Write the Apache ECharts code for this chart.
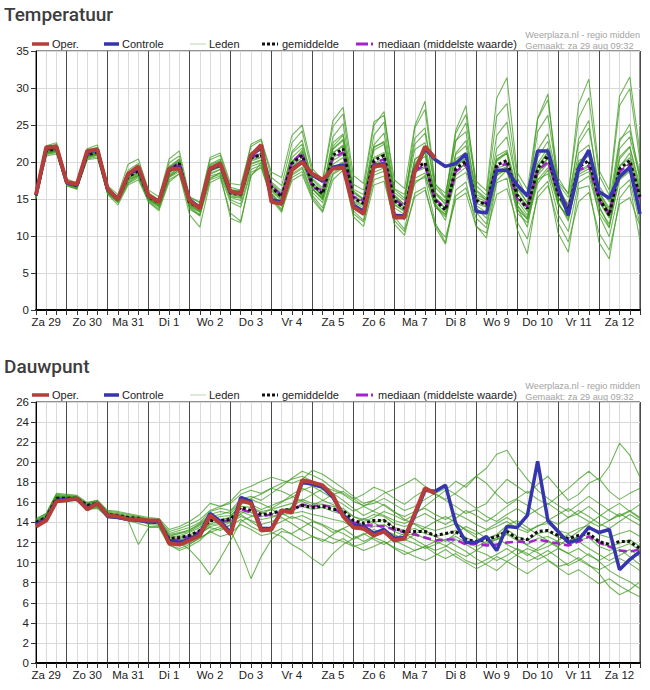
<!DOCTYPE html>
<html>
<head>
<meta charset="utf-8">
<script src="https://cdn.jsdelivr.net/npm/echarts@6/dist/echarts.min.js"></script>
<style>
  html, body { margin: 0; padding: 0; background: #fff; }
  #chart { width: 650px; height: 690px; }
</style>
</head>
<body>
<div id="chart"></div>
<script>
// time axis: 6-hourly from Za 29 06:00 to Zo 13 00:00 (60 steps)
const dayLabels = ['Za 29', 'Zo 30', 'Ma 31', 'Di 1', 'Wo 2', 'Do 3', 'Vr 4', 'Za 5',
  'Zo 6', 'Ma 7', 'Di 8', 'Wo 9', 'Do 10', 'Vr 11', 'Za 12', 'Zo 13'];

// ---- Temperatuur ----
const tempOper = [15.6, 22.0, 22.1, 17.3, 17.0, 21.5, 21.7, 16.4, 14.9, 18.4, 19.4, 15.5, 14.6, 19.1, 19.1,
  14.8, 13.7, 19.1, 19.8, 16.0, 15.7, 20.9, 22.3, 14.6, 14.4, 18.9, 20.0, 18.4, 17.6, 19.1, 19.3, 13.9, 13.0,
  19.4, 19.6, 12.5, 12.5, 18.7, 22.1, 20.5];
const tempControle = [15.5, 21.8, 22.0, 17.2, 16.9, 21.3, 21.6, 16.3, 15.0, 18.3, 19.2, 15.4, 14.7, 19.0, 19.3,
  14.9, 13.8, 19.0, 19.7, 15.9, 15.8, 20.8, 22.0, 14.9, 14.6, 19.0, 20.1, 18.2, 17.4, 19.3, 19.6, 14.2, 13.3,
  19.5, 19.8, 12.8, 12.7, 18.9, 21.8, 20.3, 19.4, 19.8, 21.1, 13.3, 13.1, 18.9, 18.9, 16.9, 15.4, 21.5, 21.5,
  16.6, 12.8, 19.1, 21.6, 16.0, 15.1, 18.0, 19.3, 13.0];
const tempMean = [15.5, 21.5, 21.8, 17.2, 16.8, 21.0, 21.3, 16.2, 15.0, 18.0, 18.8, 15.3, 14.5, 18.8, 19.8,
  14.5, 13.8, 19.0, 19.6, 15.8, 15.6, 20.5, 21.0, 16.6, 15.3, 19.8, 20.9, 17.0, 15.7, 20.9, 21.8, 15.1, 14.4,
  20.2, 20.9, 14.8, 13.7, 19.1, 19.9, 14.8, 13.5, 19.1, 20.1, 14.8, 14.2, 19.6, 20.2, 15.5, 13.7, 19.1, 20.9,
  15.7, 13.5, 19.3, 20.2, 15.1, 12.8, 19.1, 20.2, 15.3];
const tempMedian = [15.6, 21.6, 21.9, 17.2, 16.9, 21.1, 21.4, 16.3, 15.1, 18.2, 19.0, 15.4, 14.6, 19.0, 19.9,
  14.6, 13.9, 19.2, 19.8, 15.9, 15.8, 20.6, 21.1, 16.8, 15.5, 20.0, 21.2, 16.5, 16.2, 20.5, 21.3, 15.3, 14.8,
  19.8, 20.4, 15.0, 14.0, 18.8, 19.6, 14.9, 13.8, 18.7, 19.7, 14.5, 14.5, 19.3, 19.8, 15.0, 14.0, 18.8, 20.0,
  15.9, 13.8, 18.9, 19.5, 14.8, 13.0, 18.7, 19.7, 15.0];
const tempLeden = [
  [15.8, 21.9, 22.4, 17.5, 17.0, 21.6, 22.0, 16.6, 15.3, 18.9, 19.8, 15.8, 14.9, 19.9, 20.8, 15.2, 14.5, 20.3, 20.9, 16.6, 16.2, 22.4, 23.1, 17.9, 16.8, 22.6, 24.2, 18.4, 17.3, 24.8, 26.5, 17.0, 16.2, 24.9, 26.8, 16.3, 15.1, 23.2, 24.6, 15.9, 14.2, 22.8, 25.3, 16.8, 15.5, 26.2, 27.9, 17.9, 15.2, 24.1, 26.3, 17.3, 15.8, 25.9, 28.7, 18.2, 15.5, 27.6, 29.9, 20.1],
  [15.2, 21.0, 21.3, 16.9, 16.5, 20.4, 20.7, 15.8, 14.6, 17.2, 18.1, 14.8, 13.8, 17.9, 18.7, 13.6, 12.8, 17.6, 18.1, 14.6, 13.9, 18.6, 19.2, 15.1, 13.4, 17.5, 18.3, 14.9, 13.2, 17.6, 18.9, 12.6, 11.3, 16.9, 17.4, 12.1, 10.6, 15.3, 16.2, 11.4, 9.8, 14.9, 15.8, 11.2, 10.4, 15.6, 16.4, 11.9, 9.6, 15.2, 16.8, 11.8, 9.2, 14.6, 15.9, 10.4, 8.1, 14.3, 15.2, 11.3],
  [15.7, 21.7, 22.0, 17.4, 17.1, 21.3, 21.6, 16.5, 15.2, 18.6, 19.3, 15.6, 14.8, 19.2, 20.3, 14.9, 14.1, 19.6, 20.2, 16.3, 16.0, 21.2, 21.8, 17.1, 15.8, 20.6, 21.9, 17.6, 16.2, 21.8, 23.1, 15.9, 15.0, 21.6, 22.4, 15.6, 14.2, 20.3, 21.5, 15.9, 14.7, 21.0, 22.2, 15.6, 14.9, 20.8, 21.6, 16.4, 14.5, 20.6, 22.8, 16.7, 14.1, 21.2, 22.3, 16.0, 13.4, 20.7, 22.1, 16.8],
  [15.3, 21.3, 21.5, 17.0, 16.6, 20.7, 21.0, 15.9, 14.8, 17.6, 18.4, 15.0, 14.2, 18.3, 19.2, 14.1, 13.3, 18.3, 19.0, 15.3, 15.1, 19.7, 20.2, 16.1, 14.7, 18.9, 19.8, 16.3, 14.9, 19.7, 20.6, 14.2, 13.5, 19.1, 19.6, 13.8, 12.9, 17.8, 18.5, 13.9, 12.6, 17.7, 18.6, 13.6, 13.0, 18.3, 18.9, 14.2, 12.5, 17.6, 19.2, 14.5, 12.3, 18.0, 18.7, 13.8, 11.6, 17.6, 18.7, 14.0],
  [15.4, 21.6, 21.9, 17.2, 16.9, 21.1, 21.5, 16.3, 15.1, 18.2, 19.1, 15.4, 14.6, 19.3, 20.1, 14.7, 14.0, 19.4, 20.1, 16.1, 15.9, 21.0, 21.6, 16.9, 15.6, 21.4, 23.0, 17.2, 15.9, 23.4, 25.2, 16.1, 15.0, 23.6, 25.4, 15.4, 14.3, 24.6, 27.1, 16.6, 15.1, 23.9, 26.4, 17.4, 16.1, 28.6, 31.4, 18.6, 16.3, 25.8, 28.4, 17.9, 15.6, 27.8, 31.2, 18.9, 16.2, 28.9, 31.5, 21.3],
  [15.4, 21.2, 21.6, 17.1, 16.7, 20.8, 21.1, 16.0, 14.7, 17.8, 18.5, 15.1, 14.0, 18.1, 19.3, 13.9, 12.9, 18.5, 19.0, 15.2, 14.8, 19.8, 20.3, 15.7, 14.1, 18.4, 19.3, 15.9, 14.5, 19.2, 20.0, 13.4, 12.1, 18.2, 18.8, 12.6, 10.9, 17.4, 17.9, 11.8, 9.1, 16.2, 17.3, 11.4, 9.7, 17.2, 17.8, 10.9, 7.6, 15.9, 17.4, 10.4, 7.8, 16.4, 16.8, 9.1, 6.9, 15.1, 16.9, 9.4],
  [15.6, 21.5, 21.7, 17.3, 16.8, 21.0, 21.2, 16.1, 15.0, 17.9, 18.7, 15.3, 14.4, 18.6, 19.6, 14.6, 13.9, 19.1, 19.8, 15.9, 15.4, 20.3, 20.7, 16.4, 15.1, 19.4, 20.6, 16.8, 15.4, 20.6, 21.3, 14.7, 14.1, 19.8, 20.5, 14.3, 13.4, 18.8, 19.4, 14.5, 13.2, 18.7, 19.8, 14.4, 13.9, 19.2, 19.6, 15.2, 13.3, 18.7, 20.5, 15.3, 13.1, 18.8, 19.6, 14.6, 12.4, 18.8, 19.9, 14.9],
  [15.1, 21.1, 21.4, 16.8, 16.3, 20.5, 20.9, 15.6, 14.2, 16.9, 17.6, 14.6, 13.4, 17.3, 18.4, 12.9, 11.2, 17.2, 17.9, 13.1, 12.0, 18.2, 19.4, 14.9, 13.2, 19.6, 21.2, 16.4, 15.1, 22.1, 23.6, 15.8, 14.9, 22.3, 23.9, 15.9, 14.8, 21.7, 22.6, 15.2, 13.6, 20.4, 21.3, 13.8, 12.4, 18.4, 19.2, 13.1, 11.8, 17.1, 18.9, 14.2, 12.7, 19.8, 21.6, 15.4, 13.1, 20.4, 22.0, 16.2],
  [15.9, 22.2, 22.6, 17.7, 17.2, 21.8, 22.3, 16.8, 15.6, 19.7, 20.4, 16.2, 15.3, 20.4, 21.5, 15.3, 14.6, 20.6, 21.2, 17.1, 16.9, 22.1, 22.9, 18.6, 17.9, 23.6, 25.0, 19.1, 17.6, 25.6, 27.4, 18.2, 17.1, 25.4, 26.3, 17.6, 16.4, 24.9, 28.2, 17.1, 15.2, 24.3, 27.6, 16.1, 14.8, 23.6, 25.4, 16.8, 14.4, 25.9, 29.2, 16.2, 13.9, 23.1, 25.6, 15.6, 13.2, 22.7, 25.1, 17.3],
  [15.3, 21.4, 21.6, 17.0, 16.6, 20.9, 21.1, 16.0, 14.9, 17.6, 18.2, 14.9, 14.1, 18.0, 18.9, 14.2, 13.4, 18.1, 18.5, 15.4, 15.2, 19.4, 19.9, 15.6, 14.0, 18.2, 19.1, 15.5, 13.8, 18.5, 19.4, 13.9, 12.8, 18.6, 19.2, 13.1, 12.2, 17.1, 18.2, 13.9, 12.9, 19.4, 20.6, 14.9, 14.3, 20.1, 21.2, 15.8, 14.1, 19.8, 21.9, 16.1, 14.3, 20.2, 20.8, 14.1, 11.2, 17.8, 18.9, 12.7],
  [15.6, 21.8, 22.1, 17.3, 17.0, 21.4, 21.7, 16.4, 15.3, 18.4, 19.2, 15.5, 14.8, 19.4, 20.4, 14.8, 14.2, 19.7, 20.4, 16.2, 16.1, 21.3, 21.9, 17.3, 16.1, 21.2, 22.4, 17.8, 16.5, 22.6, 23.8, 16.3, 15.6, 22.1, 22.6, 15.4, 13.8, 20.4, 21.2, 14.3, 12.1, 18.6, 19.9, 13.2, 11.6, 18.1, 19.3, 13.8, 11.2, 18.4, 20.6, 14.6, 12.0, 19.7, 21.2, 15.9, 13.8, 21.8, 23.4, 17.9],
  [15.0, 20.8, 21.1, 16.8, 16.4, 20.3, 20.5, 15.7, 14.5, 17.1, 17.9, 14.6, 13.6, 17.6, 18.4, 13.8, 12.7, 17.7, 18.6, 14.9, 14.3, 19.0, 19.6, 15.3, 13.6, 17.9, 18.7, 15.2, 13.4, 18.3, 19.2, 13.0, 11.9, 17.6, 18.1, 11.6, 10.1, 15.8, 16.6, 11.2, 8.9, 15.4, 16.5, 12.4, 11.1, 17.5, 18.9, 13.6, 12.3, 19.4, 21.2, 14.3, 12.6, 18.6, 19.4, 12.8, 9.9, 16.3, 17.6, 11.6],
  [15.5, 21.4, 21.9, 17.1, 16.9, 21.2, 21.4, 16.2, 15.1, 18.1, 19.0, 15.2, 14.3, 18.9, 19.7, 14.4, 13.6, 18.8, 19.4, 15.6, 15.5, 20.6, 21.2, 16.8, 15.5, 20.1, 21.1, 17.2, 15.9, 21.2, 22.3, 15.4, 14.7, 20.6, 21.3, 14.9, 13.9, 19.6, 20.8, 15.1, 13.8, 19.5, 20.4, 15.3, 14.6, 20.4, 21.1, 15.7, 13.9, 19.4, 21.4, 16.0, 13.7, 19.6, 20.9, 15.4, 13.0, 19.5, 20.6, 15.6],
  [15.4, 21.5, 21.6, 17.2, 16.7, 20.8, 21.2, 16.1, 14.9, 17.8, 18.6, 15.1, 14.4, 18.5, 19.5, 14.3, 13.5, 18.8, 19.3, 15.6, 15.3, 20.1, 20.6, 16.2, 14.9, 19.3, 20.2, 16.4, 15.0, 20.2, 21.0, 14.6, 13.8, 19.5, 20.3, 14.2, 13.3, 19.8, 21.4, 15.6, 14.4, 21.2, 22.9, 16.2, 15.1, 21.8, 23.4, 16.9, 15.3, 21.6, 23.8, 17.1, 15.2, 22.4, 24.6, 16.8, 14.6, 23.1, 24.2, 18.4],
  [15.7, 21.6, 21.8, 17.3, 16.9, 21.1, 21.3, 16.3, 15.0, 18.1, 18.9, 15.4, 14.6, 18.7, 19.9, 14.6, 13.7, 18.9, 19.7, 15.8, 15.7, 20.4, 21.1, 16.5, 15.2, 20.0, 21.4, 16.9, 15.5, 21.3, 22.1, 15.0, 14.2, 20.4, 21.1, 14.6, 13.6, 18.6, 19.2, 14.2, 12.9, 18.2, 19.3, 14.1, 13.2, 18.7, 19.4, 14.8, 12.8, 18.2, 19.8, 15.2, 12.9, 18.3, 19.1, 14.9, 12.6, 18.4, 19.3, 14.6],
  [15.2, 21.2, 21.5, 17.0, 16.6, 20.6, 21.0, 15.8, 14.6, 17.4, 18.2, 14.9, 14.0, 18.0, 19.0, 14.0, 13.2, 17.9, 18.3, 12.4, 11.8, 18.1, 19.9, 15.8, 14.3, 19.8, 21.6, 16.9, 15.2, 21.7, 22.9, 15.2, 14.6, 21.9, 22.8, 16.4, 15.6, 22.4, 23.9, 16.9, 15.8, 22.9, 24.1, 15.2, 13.9, 20.3, 21.4, 14.1, 12.2, 17.6, 18.4, 12.9, 10.6, 17.2, 18.1, 13.2, 11.1, 19.3, 21.2, 16.0]
];

// ---- Dauwpunt ----
const dewOper = [13.6, 14.2, 16.1, 16.2, 16.4, 15.3, 15.9, 14.7, 14.6, 14.3, 14.3, 14.2, 14.2, 11.9, 11.8,
  12.2, 12.7, 14.7, 13.9, 12.8, 16.2, 15.9, 13.2, 13.3, 15.2, 15.0, 18.2, 18.0, 17.7, 16.7, 14.6, 13.5, 13.4,
  12.7, 13.1, 12.2, 12.4, 14.9, 17.4, 16.9];
const dewControle = [13.8, 14.3, 16.2, 16.3, 16.3, 15.4, 15.9, 14.6, 14.5, 14.3, 14.2, 14.1, 14.1, 12.2, 12.0,
  12.3, 12.9, 14.9, 14.1, 13.0, 16.5, 16.1, 13.4, 13.4, 15.1, 15.2, 18.0, 17.8, 17.5, 16.5, 14.8, 13.7, 13.6,
  12.9, 13.3, 12.4, 12.5, 14.7, 17.2, 17.1, 17.7, 13.9, 12.0, 12.0, 12.6, 11.2, 13.6, 13.5, 14.7, 20.1, 14.2,
  13.1, 12.0, 12.3, 13.5, 13.0, 13.3, 9.3, 10.3, 11.1];
const dewMean = [14.0, 14.5, 16.4, 16.4, 16.4, 15.7, 15.9, 14.8, 14.7, 14.5, 14.4, 14.1, 14.0, 12.4, 12.5,
  12.7, 13.2, 14.2, 14.2, 14.3, 15.5, 15.2, 14.8, 14.9, 15.2, 15.3, 15.7, 15.5, 15.6, 15.3, 15.2, 14.2, 13.9,
  14.2, 14.2, 13.4, 13.1, 13.1, 13.1, 12.7, 12.9, 13.1, 12.3, 12.1, 12.3, 12.6, 13.1, 12.4, 12.3, 13.1, 13.2,
  12.7, 12.4, 12.7, 12.9, 12.1, 11.8, 12.1, 12.1, 11.4];
const dewMedian = [13.9, 14.4, 16.3, 16.3, 16.4, 15.5, 15.8, 14.7, 14.6, 14.4, 14.2, 14.0, 13.9, 12.2, 12.3,
  12.6, 13.1, 14.5, 14.1, 14.2, 15.3, 15.0, 14.6, 14.8, 15.0, 15.2, 15.8, 15.6, 15.7, 15.5, 14.7, 14.0, 13.7,
  13.7, 13.6, 13.3, 13.0, 12.8, 12.5, 12.2, 12.3, 12.3, 11.8, 11.9, 11.7, 11.8, 12.0, 12.1, 12.0, 12.3, 12.1,
  11.9, 11.7, 12.1, 12.6, 12.0, 11.6, 11.2, 11.1, 11.3];
const dewLeden = [
  [14.2, 14.8, 16.7, 16.6, 16.5, 15.9, 16.1, 15.0, 14.9, 14.7, 14.6, 14.3, 14.2, 13.1, 13.4, 13.8, 14.3, 15.2, 15.6, 15.9, 16.8, 17.2, 16.9, 17.4, 17.9, 18.3, 18.6, 18.1, 17.6, 17.2, 16.8, 16.1, 15.7, 15.9, 16.4, 15.8, 15.2, 15.6, 16.3, 16.9, 17.4, 16.8, 16.1, 15.4, 15.9, 17.2, 18.3, 17.6, 16.9, 17.8, 18.6, 17.4, 16.2, 16.8, 17.9, 18.4, 17.1, 16.3, 16.9, 17.4],
  [13.7, 14.2, 16.1, 16.2, 16.2, 15.3, 15.5, 14.5, 14.4, 14.2, 13.9, 13.6, 13.6, 11.9, 11.7, 11.9, 12.4, 13.1, 12.6, 12.9, 13.8, 13.3, 12.7, 12.9, 13.4, 12.8, 12.2, 12.6, 12.3, 11.9, 12.4, 11.7, 11.2, 11.6, 12.1, 11.4, 10.8, 11.2, 11.6, 10.9, 10.4, 10.9, 10.2, 9.8, 10.3, 10.8, 11.4, 10.7, 10.1, 10.6, 11.2, 10.5, 9.7, 10.2, 10.9, 10.1, 9.2, 8.6, 8.1, 7.4],
  [14.0, 14.4, 16.3, 16.5, 16.3, 15.6, 15.7, 14.8, 14.6, 14.4, 14.1, 14.0, 13.8, 12.1, 12.0, 11.3, 10.2, 8.8, 10.4, 12.2, 14.1, 14.6, 14.9, 15.3, 14.8, 15.6, 16.2, 16.8, 17.3, 16.9, 16.2, 15.4, 14.7, 15.2, 15.8, 15.1, 14.3, 13.8, 13.2, 12.6, 12.1, 12.9, 13.6, 13.1, 12.4, 12.8, 13.7, 14.2, 13.5, 12.8, 12.2, 11.6, 12.4, 13.1, 13.9, 14.6, 15.3, 15.9, 15.1, 14.4],
  [14.1, 14.6, 16.5, 16.4, 16.5, 15.7, 15.9, 14.9, 14.8, 14.5, 14.4, 14.1, 14.1, 12.6, 12.9, 13.1, 13.7, 14.4, 14.0, 13.2, 11.1, 8.4, 10.6, 12.3, 13.1, 12.9, 13.5, 14.1, 13.7, 13.0, 13.4, 13.9, 14.4, 14.0, 13.3, 12.7, 12.2, 12.8, 13.5, 14.1, 14.6, 14.0, 13.2, 12.5, 11.8, 12.3, 12.9, 12.4, 11.7, 11.2, 11.6, 12.2, 12.8, 12.1, 11.4, 10.8, 10.2, 10.7, 11.3, 10.6],
  [14.3, 14.9, 16.8, 16.7, 16.6, 15.9, 16.2, 15.1, 15.0, 14.8, 14.6, 14.4, 14.3, 12.9, 13.2, 13.5, 14.0, 15.1, 15.4, 15.2, 16.3, 16.6, 16.2, 16.9, 17.6, 18.4, 19.1, 18.7, 18.2, 17.4, 16.9, 16.3, 16.8, 17.5, 17.1, 16.4, 15.8, 16.6, 17.2, 16.8, 16.2, 15.6, 14.9, 15.3, 14.6, 14.1, 14.8, 15.4, 14.7, 15.3, 15.9, 15.2, 14.5, 14.9, 15.6, 14.8, 14.2, 14.7, 15.2, 14.5],
  [13.9, 14.5, 16.4, 16.3, 16.4, 15.5, 15.8, 14.8, 14.7, 14.4, 14.3, 14.0, 14.0, 12.3, 12.4, 12.8, 13.1, 14.1, 14.3, 14.5, 15.4, 15.0, 14.6, 14.8, 15.3, 15.4, 15.6, 15.3, 15.5, 15.1, 14.8, 14.1, 13.6, 14.0, 14.3, 13.5, 13.2, 13.4, 12.9, 12.6, 12.8, 13.2, 12.5, 12.0, 12.4, 12.7, 13.3, 12.6, 12.2, 12.9, 13.1, 12.5, 12.2, 12.6, 12.8, 11.9, 11.6, 11.9, 12.3, 11.6],
  [13.8, 14.3, 16.2, 16.3, 16.3, 15.4, 15.6, 14.6, 14.5, 14.3, 14.2, 13.8, 13.7, 11.8, 11.2, 11.6, 12.2, 13.2, 13.6, 14.0, 14.6, 14.2, 13.8, 14.1, 14.5, 13.9, 13.2, 12.6, 12.1, 12.8, 13.4, 12.7, 12.1, 12.6, 13.2, 12.8, 12.3, 11.9, 11.4, 11.8, 12.3, 11.7, 11.1, 10.4, 9.8, 9.2, 10.1, 10.8, 11.4, 11.0, 10.3, 9.6, 9.9, 10.5, 9.8, 8.9, 7.6, 6.8, 7.3, 8.1],
  [14.1, 14.7, 16.6, 16.5, 16.4, 15.7, 16.0, 14.9, 14.7, 14.6, 14.4, 14.2, 14.1, 12.7, 12.9, 13.3, 13.8, 14.6, 14.8, 15.1, 16.0, 15.8, 15.3, 15.7, 16.1, 16.5, 17.2, 17.6, 17.0, 16.4, 15.8, 15.1, 15.6, 16.2, 16.9, 17.3, 17.8, 18.4, 17.6, 16.9, 16.3, 16.9, 17.8, 18.6, 17.9, 16.8, 15.9, 16.4, 17.1, 16.3, 15.8, 16.6, 17.4, 18.3, 19.1, 18.2, 19.6, 21.9, 20.7, 18.5],
  [13.9, 14.4, 16.3, 16.4, 16.5, 15.6, 15.7, 14.7, 14.6, 14.5, 14.3, 14.1, 13.9, 12.4, 12.6, 12.5, 12.9, 13.9, 14.1, 14.6, 15.8, 16.3, 15.9, 15.4, 16.0, 16.8, 17.4, 16.9, 16.2, 15.8, 15.2, 14.6, 14.1, 14.5, 15.1, 14.7, 14.2, 14.8, 15.6, 16.4, 17.2, 18.1, 17.5, 18.6, 19.4, 20.8, 21.2, 19.6, 18.3, 17.2, 16.4, 15.7, 15.1, 15.8, 16.6, 15.9, 15.2, 14.6, 15.1, 15.8],
  [14.0, 14.5, 16.4, 16.4, 16.3, 15.6, 15.9, 14.8, 14.6, 14.5, 14.3, 14.0, 14.0, 12.2, 12.1, 12.4, 12.9, 13.8, 13.9, 14.2, 14.8, 14.1, 13.4, 13.0, 12.6, 11.8, 11.2, 10.4, 9.7, 10.9, 11.8, 12.4, 12.9, 12.3, 11.8, 12.4, 12.9, 12.3, 11.7, 11.2, 11.6, 12.3, 11.8, 11.2, 11.9, 12.5, 11.8, 11.3, 10.7, 11.4, 12.1, 11.5, 10.9, 11.4, 10.7, 10.2, 10.8, 11.3, 10.6, 9.8],
  [14.2, 14.6, 16.6, 16.6, 16.6, 15.8, 16.0, 15.0, 14.8, 14.6, 14.5, 14.3, 14.2, 12.8, 13.0, 13.2, 13.9, 14.8, 15.1, 14.9, 15.9, 16.4, 16.8, 17.4, 17.1, 16.6, 16.1, 15.7, 16.2, 16.8, 17.1, 16.4, 15.6, 15.1, 14.7, 14.2, 13.9, 14.4, 14.9, 14.3, 13.8, 14.4, 15.2, 14.7, 14.1, 14.8, 15.6, 16.3, 15.7, 14.9, 14.3, 13.8, 14.5, 15.2, 14.6, 13.9, 13.4, 14.1, 14.8, 14.2],
  [13.8, 14.4, 16.3, 16.3, 16.3, 15.5, 15.7, 14.7, 14.6, 14.4, 14.2, 13.9, 13.9, 12.0, 12.2, 12.6, 13.0, 13.5, 13.2, 13.8, 14.9, 15.3, 15.0, 14.6, 14.9, 14.4, 14.7, 14.2, 13.8, 13.3, 12.9, 12.3, 12.8, 13.3, 12.9, 12.2, 11.7, 11.2, 11.6, 12.1, 11.7, 11.1, 10.6, 11.2, 10.8, 10.2, 10.7, 11.4, 10.9, 10.3, 10.8, 11.4, 10.9, 10.3, 9.7, 9.3, 9.8, 10.4, 9.9, 9.2],
  [14.0, 14.6, 16.5, 16.4, 16.5, 15.7, 15.9, 14.9, 14.7, 14.5, 14.4, 14.1, 14.0, 12.5, 12.7, 13.0, 13.5, 14.3, 14.6, 14.7, 15.6, 15.5, 15.1, 15.3, 15.6, 15.9, 16.3, 15.9, 15.8, 15.6, 15.4, 14.6, 14.3, 14.8, 14.6, 13.9, 13.6, 13.9, 13.5, 13.2, 13.5, 13.9, 13.3, 12.8, 13.2, 13.6, 14.1, 13.4, 13.0, 13.7, 13.9, 13.2, 12.9, 13.4, 13.7, 12.8, 12.5, 12.9, 13.2, 12.6],
  [13.9, 14.3, 16.2, 16.4, 16.3, 15.5, 15.6, 14.7, 14.6, 14.4, 14.2, 13.9, 13.9, 12.1, 12.3, 12.5, 12.8, 13.6, 13.8, 14.1, 15.1, 14.7, 14.3, 14.5, 14.8, 14.9, 15.1, 14.8, 14.6, 14.3, 14.1, 13.5, 13.2, 13.6, 13.8, 13.1, 12.7, 12.9, 12.4, 12.1, 12.3, 12.6, 12.0, 11.6, 12.1, 12.3, 12.8, 12.2, 11.8, 12.4, 12.6, 12.1, 11.7, 12.2, 12.5, 11.6, 11.2, 11.5, 11.9, 11.2],
  [14.4, 14.9, 16.9, 16.8, 16.7, 16.0, 16.2, 15.2, 15.1, 14.9, 14.7, 14.5, 14.4, 13.3, 13.6, 14.1, 14.8, 15.9, 15.6, 16.1, 17.2, 17.6, 18.1, 18.5, 18.2, 17.9, 18.3, 19.2, 18.8, 18.1, 17.4, 16.6, 15.9, 16.2, 15.7, 15.0, 14.6, 15.1, 15.4, 14.8, 14.3, 14.9, 14.4, 13.8, 13.3, 13.9, 14.5, 13.8, 13.2, 13.6, 14.2, 14.8, 15.4, 14.7, 14.1, 13.6, 14.2, 14.9, 14.3, 13.7],
  [13.7, 14.2, 16.0, 16.1, 16.2, 15.3, 15.4, 14.5, 14.4, 14.2, 11.8, 13.5, 13.5, 11.7, 11.4, 11.8, 12.5, 13.0, 13.4, 13.7, 14.3, 13.6, 13.1, 13.6, 14.1, 14.6, 14.2, 13.6, 13.0, 12.4, 12.1, 11.6, 11.9, 12.5, 12.1, 11.5, 11.1, 10.6, 10.2, 10.7, 11.3, 10.6, 10.0, 9.4, 9.9, 10.6, 10.1, 9.5, 8.9, 9.6, 10.2, 9.5, 8.8, 9.3, 8.6, 7.9, 8.4, 7.7, 7.1, 6.6]
];

const legendNames = ['Oper.', 'Controle', 'Leden', 'gemiddelde', 'mediaan (middelste waarde)'];

// category per 6h slot, built from the day labels
const slots = [];
for (let i = 0; i < 60; i++) {
  const d = Math.floor((i + 1) / 4);
  const h = ((i + 1) % 4) * 6;
  slots.push(dayLabels[d] + ' ' + (h < 10 ? '0' : '') + h + ':00');
}

const axisFont = 'Liberation Sans, Arial, sans-serif';
const COL = {
  oper: '#b53e3b', controle: '#3535ad', leden: '#3c9a1c', mean: '#111', median: '#a322c9'
};

function xAxesFor(g) {
  return [
    {
      type: 'category', gridIndex: g, data: slots, boundaryGap: false,
      axisLine: { lineStyle: { color: '#000', width: 2 } },
      axisTick: { show: true, interval: 0, length: 5, lineStyle: { color: '#333' } },
      axisLabel: {
        interval: 0, margin: 6, fontSize: 11.5, color: '#222', fontFamily: axisFont,
        formatter: function (v, i) { return i % 4 === 1 ? dayLabels[(i - 1) / 4] : ''; }
      },
      splitLine: { show: true, interval: 0, lineStyle: { color: '#d9d9d9', width: 1 } }
    },
    {
      type: 'category', gridIndex: g, data: slots, boundaryGap: false,
      axisLine: { show: false }, axisTick: { show: false }, axisLabel: { show: false },
      splitLine: {
        show: true,
        interval: function (i) { return i % 4 === 3; },
        lineStyle: { color: '#4a4a4a', width: 1 }
      }
    }
  ];
}

function yAxisFor(g, max, step) {
  return {
    type: 'value', gridIndex: g, min: 0, max: max, interval: step,
    axisLine: { show: true, lineStyle: { color: '#000', width: 1 } },
    axisTick: { show: true, length: 5, lineStyle: { color: '#333' } },
    axisLabel: { fontSize: 11.5, color: '#222', margin: 7, fontFamily: axisFont },
    splitLine: { lineStyle: { color: '#d9d9d9', width: 1 } }
  };
}

function seriesFor(g, leden, median, mean, controle, oper) {
  const xi = g * 2;
  const out = [];
  leden.forEach(function (m) {
    out.push({
      name: 'Leden', type: 'line', xAxisIndex: xi, yAxisIndex: g, data: m,
      symbol: 'none', silent: true, z: 2,
      lineStyle: { color: COL.leden, width: 1.1, opacity: 0.72 }
    });
  });
  out.push({
    name: 'mediaan (middelste waarde)', type: 'line', xAxisIndex: xi, yAxisIndex: g, data: median,
    symbol: 'none', z: 3, lineStyle: { color: COL.median, width: 2.5, type: [8, 4] }
  });
  out.push({
    name: 'gemiddelde', type: 'line', xAxisIndex: xi, yAxisIndex: g, data: mean,
    symbol: 'none', z: 4, lineStyle: { color: COL.mean, width: 3, type: [3, 2.5] }
  });
  out.push({
    name: 'Controle', type: 'line', xAxisIndex: xi, yAxisIndex: g, data: controle,
    symbol: 'none', z: 5, lineStyle: { color: COL.controle, width: 3.5 }
  });
  out.push({
    name: 'Oper.', type: 'line', xAxisIndex: xi, yAxisIndex: g, data: oper,
    symbol: 'none', z: 6, lineStyle: { color: COL.oper, width: 4 }
  });
  return out;
}

// hand-placed legend row (line sample + label) for one panel
function legendRow(cy) {
  const items = [
    { x: 32, w: 17, tx: 52, style: { stroke: COL.oper, lineWidth: 3.5 } },
    { x: 104, w: 15, tx: 122, style: { stroke: COL.controle, lineWidth: 3.5 } },
    { x: 190, w: 16, tx: 209, style: { stroke: '#b9d8a8', lineWidth: 1 } },
    { x: 262, w: 16, tx: 282, style: { stroke: COL.mean, lineWidth: 3, lineDash: [3, 2] } },
    { x: 356, w: 17, tx: 378, style: { stroke: COL.median, lineWidth: 3, lineDash: [12, 3, 2, 10] } }
  ];
  const els = [];
  items.forEach(function (it, k) {
    els.push({ type: 'line', silent: true, shape: { x1: it.x, y1: cy, x2: it.x + it.w, y2: cy }, style: it.style });
    els.push({
      type: 'text', silent: true, x: it.tx, y: cy,
      style: { text: legendNames[k], fill: '#222', fontSize: 11, fontFamily: axisFont, verticalAlign: 'middle' }
    });
  });
  return els;
}

const titleStyle = { fontFamily: 'Roboto, sans-serif', fontWeight: 500, fontSize: 19, color: '#3d3d3d' };
const stampStyle = { fontFamily: axisFont, fontSize: 9.2, color: '#a3a3a3', fontWeight: 'normal', lineHeight: 10.5, align: 'right' };
const stamp = 'Weerplaza.nl - regio midden\nGemaakt: za 29 aug 09:32';

const chart = echarts.init(document.getElementById('chart'), null, { renderer: 'svg' });
chart.setOption({
  animation: false,
  backgroundColor: '#fff',
  title: [
    { text: 'Temperatuur', left: 4, top: 5, padding: 0, textStyle: titleStyle },
    { text: stamp, right: 10, top: 30, padding: 0, textStyle: stampStyle },
    { text: 'Dauwpunt', left: 4, top: 357, padding: 0, textStyle: titleStyle },
    { text: stamp, right: 10, top: 381, padding: 0, textStyle: stampStyle }
  ],
  graphic: legendRow(44).concat(legendRow(395)),
  grid: [
    { left: 36, top: 51, width: 604, height: 259, show: true, borderColor: '#222', borderWidth: 1, backgroundColor: 'transparent' },
    { left: 36, top: 402, width: 604, height: 261, show: true, borderColor: '#222', borderWidth: 1, backgroundColor: 'transparent' }
  ],
  xAxis: xAxesFor(0).concat(xAxesFor(1)),
  yAxis: [yAxisFor(0, 35, 5), yAxisFor(1, 26, 2)],
  series: seriesFor(0, tempLeden, tempMedian, tempMean, tempControle, tempOper)
    .concat(seriesFor(1, dewLeden, dewMedian, dewMean, dewControle, dewOper))
});
</script>
</body>
</html>
